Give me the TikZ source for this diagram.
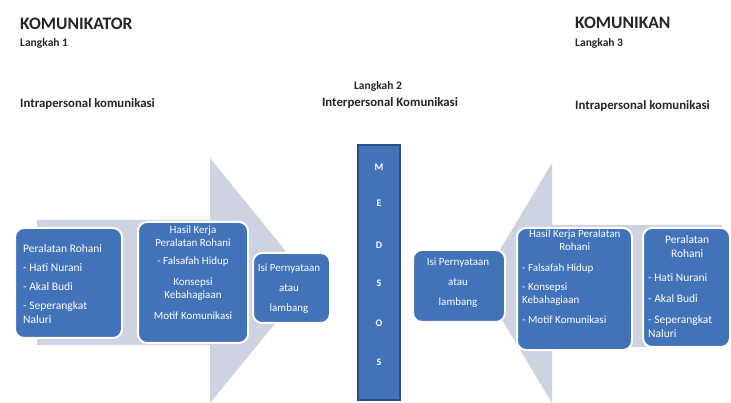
\documentclass[tikz,border=0pt]{standalone}
\usepackage{fontspec}
\setmainfont{Carlito}
\definecolor{boxblue}{RGB}{66,114,184}
\definecolor{medsosedge}{RGB}{44,78,135}
\definecolor{arrowgrey}{RGB}{206,211,225}
\definecolor{txt}{RGB}{38,38,38}
\tikzset{
  box/.style={fill=boxblue, draw=white, line width=2pt, rounded corners=9pt, inner sep=0pt},
  medsos/.style={fill=boxblue, draw=medsosedge, line width=1.5pt, inner sep=0pt},
  btxt/.style={text=white, inner sep=0pt, font=\fontsize{11}{13}\selectfont},
  bigtxt/.style={text=white, inner sep=0pt, font=\fontsize{11.5}{14}\selectfont},
  ltr/.style={text=white, inner sep=0pt, font=\fontsize{10}{12}\bfseries\selectfont},
  hdr/.style={text=txt, inner sep=0pt, font=\fontsize{17.5}{20}\bfseries\selectfont},
  sub/.style={text=txt, inner sep=0pt, font=\fontsize{11.5}{13}\bfseries\selectfont},
  mid/.style={text=txt, inner sep=0pt, font=\fontsize{12.8}{14}\bfseries\selectfont},
}
\begin{document}
\begin{tikzpicture}[x=1pt,y=-1pt]
\useasboundingbox (0,0) rectangle (731,403);
\fill[white] (0,0) rectangle (731,403);
% big arrows
\fill[arrowgrey] (37,220) -- (210,220) -- (210,158) -- (310,281) -- (210,403) -- (210,345) -- (37,345) -- cycle;
\fill[arrowgrey] (722,225) -- (552,225) -- (552,163) -- (480,283) -- (552,403) -- (552,347) -- (722,347) -- cycle;
% headers
\node[hdr, anchor=base west] (komunikator) at (20,30) {KOMUNIKATOR};
\node[sub, anchor=base west] (langkah1) at (20,47) {Langkah 1};
\node[mid, anchor=base west] (intra1) at (20,108) {Intrapersonal komunikasi};
\node[sub, anchor=base] (langkah2) at (378,90) {Langkah 2};
\node[mid, anchor=base] (inter) at (390,107) {Interpersonal Komunikasi};
\node[hdr, anchor=base west] (komunikan) at (575,29) {KOMUNIKAN};
\node[sub, anchor=base west] (langkah3) at (575,47) {Langkah 3};
\node[mid, anchor=base west] (intra3) at (575,110) {Intrapersonal komunikasi};
% left boxes
\node[box, minimum width=107pt, minimum height=110pt] (b1) at (68.5,283) {};
\node[box, minimum width=110pt, minimum height=121pt] (b2) at (193,282.5) {};
\node[box, minimum width=77pt, minimum height=70pt] (b3) at (291.5,288) {};
% medsos
\node[medsos, minimum width=42pt, minimum height=255pt] (m) at (379,272.5) {};
\node[ltr] (m1) at (379,167) {M};
\node[ltr] (m2) at (379,203) {E};
\node[ltr] (m3) at (379,245) {D};
\node[ltr] (m4) at (379,283) {S};
\node[ltr] (m5) at (379,323) {O};
\node[ltr] (m6) at (379,362) {S};
% right boxes
\node[box, minimum width=92pt, minimum height=72pt] (b4) at (459,286) {};
\node[box, minimum width=115pt, minimum height=122pt] (b5) at (574.5,289) {};
\node[box, minimum width=87pt, minimum height=119pt] (b6) at (686.5,287.5) {};
% texts
\node[bigtxt, align=left, anchor=west] (t1) at (23,284.5) {Peralatan Rohani\\[5pt]- Hati Nurani\\[5pt]- Akal Budi\\[5pt]- Seperangkat\\Naluri};
\node[btxt, align=center] (t2) at (193,272.5) {Hasil Kerja\\Peralatan Rohani\\[5pt]- Falsafah Hidup\\[8pt]Konsepsi\\Kebahagiaan\\[8pt]Motif Komunikasi};
\node[btxt, align=center] (t3) at (289,289) {Isi Pernyataan\\[7pt]atau\\[7pt]lambang};
\node[btxt, align=center] (t4) at (458,283) {Isi Pernyataan\\[7pt]atau\\[7pt]lambang};
\node[btxt, align=left, anchor=west] (t5) at (522,277) {\makebox[105pt]{Hasil Kerja Peralatan}\\\makebox[105pt]{Rohani}\\[8pt]- Falsafah Hidup\\[6pt]- Konsepsi\\Kebahagiaan\\[7pt]- Motif Komunikasi};
\node[bigtxt, align=left, anchor=west] (t6) at (648,287) {\makebox[78pt]{Peralatan}\\\makebox[78pt]{Rohani}\\[10pt]- Hati Nurani\\[7pt]- Akal Budi\\[7pt]- Seperangkat\\Naluri};
\end{tikzpicture}
\end{document}
